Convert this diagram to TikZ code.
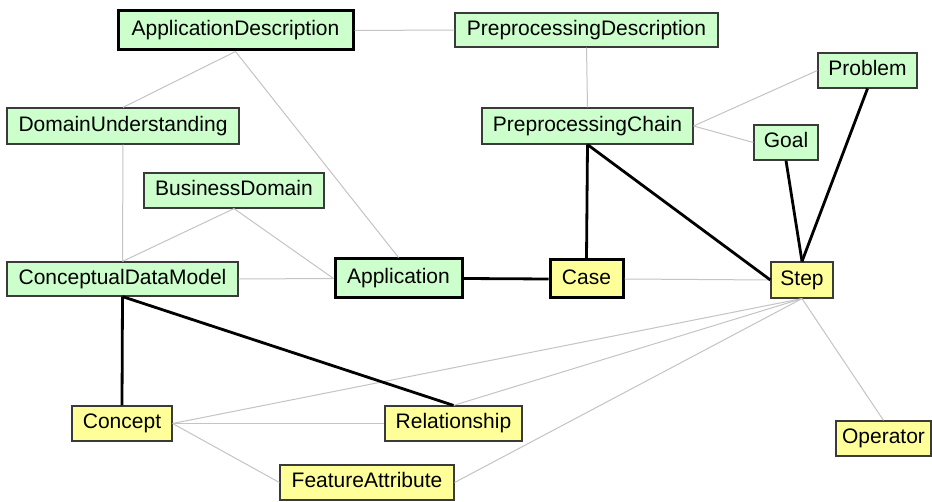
\documentclass[tikz,border=0pt]{standalone}
\usepackage{fontspec}
\setmainfont{Liberation Sans}
\definecolor{boxgreen}{HTML}{CCFFCC}
\definecolor{boxyellow}{HTML}{FFFF99}
\definecolor{edgegray}{HTML}{C4C4C4}
\definecolor{bordergray}{HTML}{3A3A3A}
\begin{document}
\begin{tikzpicture}[x=1pt,y=-1pt,
  box/.style={draw=bordergray, line width=1.2pt, rectangle, inner sep=0pt,
    font=\fontsize{21}{24}\selectfont, text height=15pt, text depth=4.5pt},
  gbox/.style={box, fill=boxgreen},
  ybox/.style={box, fill=boxyellow},
  bold/.style={draw=black, line width=3pt},
  thin/.style={draw=edgegray, line width=1pt},
  heavy/.style={draw=black, line width=2.8pt}]
\fill[white] (0,0) rectangle (932,502);
\useasboundingbox (0,0) rectangle (932,502);

% nodes
\node[gbox, bold, minimum width=235pt, minimum height=39pt] (ad) at (235.5,30.5) {ApplicationDescription};
\node[gbox, minimum width=263pt, minimum height=34pt] (pd) at (586.5,30) {PreprocessingDescription};
\node[gbox, minimum width=232pt, minimum height=36pt] (du) at (123,126) {DomainUnderstanding};
\node[gbox, minimum width=180pt, minimum height=35pt] (bd) at (234,190.5) {BusinessDomain};
\node[gbox, minimum width=211pt, minimum height=36pt] (pc) at (587.5,126) {PreprocessingChain};
\node[gbox, minimum width=99pt, minimum height=35pt] (pr) at (867.5,70.5) {Problem};
\node[gbox, minimum width=64pt, minimum height=35pt] (go) at (786,142.5) {Goal};
\node[gbox, minimum width=231pt, minimum height=34pt] (cdm) at (122.5,279) {ConceptualDataModel};
\node[gbox, bold, minimum width=127pt, minimum height=39pt] (app) at (398.5,278.5) {Application};
\node[ybox, bold, minimum width=73pt, minimum height=38pt] (case) at (586.5,279) {Case};
\node[ybox, minimum width=62pt, minimum height=36pt] (step) at (802,280) {Step};
\node[ybox, minimum width=100pt, minimum height=35pt] (con) at (122,423.5) {Concept};
\node[ybox, minimum width=137pt, minimum height=35pt] (rel) at (453.5,423.5) {Relationship};
\node[ybox, minimum width=174pt, minimum height=35pt] (fa) at (367,482.5) {FeatureAttribute};
\node[ybox, minimum width=95pt, minimum height=35pt] (op) at (883.5,438.5) {Operator};

% thin gray connectors
\draw[thin] (ad.east) -- (pd.west);
\draw[thin] (ad.south) -- (du.north);
\draw[thin] (ad.south) -- (app.north);
\draw[thin] (du.south) -- (cdm.north);
\draw[thin] (bd.south) -- (cdm.north);
\draw[thin] (bd.south) -- (app.west);
\draw[thin] (cdm.east) -- (app.west);
\draw[thin] (pd.south) -- (pc.north);
\draw[thin] (pc.east) -- (pr.west);
\draw[thin] (pc.east) -- (go.west);
\draw[thin] (case.east) -- (step.west);
\draw[thin] (step.south) -- (con.east);
\draw[thin] (step.south) -- (rel.north);
\draw[thin] (step.south) -- (fa.east);
\draw[thin] (step.south) -- (op.north);
\draw[thin] (con.east) -- (rel.west);
\draw[thin] (con.east) -- (fa.west);

% heavy black connectors
\draw[heavy] (app.east) -- (case.west);
\draw[heavy] (pc.south) -- (case.north);
\draw[heavy] (pc.south) -- (step.west);
\draw[heavy] (go.south) -- (step.north);
\draw[heavy] (pr.south) -- (step.north);
\draw[heavy] (cdm.south) -- (con.north);
\draw[heavy] (cdm.south) -- (rel.north);
\end{tikzpicture}
\end{document}
